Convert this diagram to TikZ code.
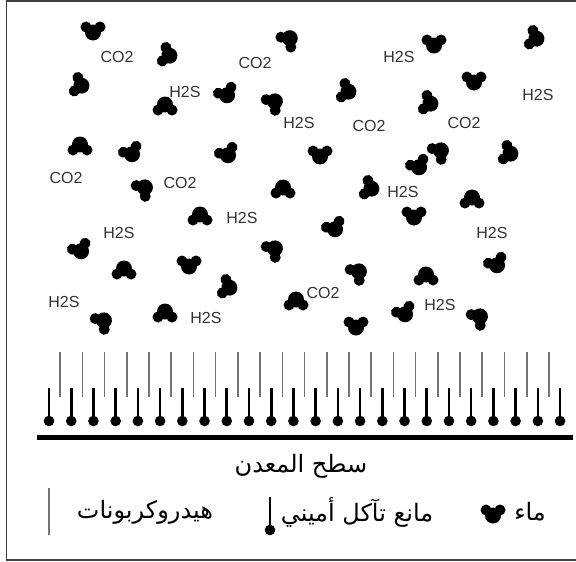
\documentclass[tikz,border=0pt]{standalone}
\usepackage{fontspec}
\setmainfont{Liberation Sans}
\newfontfamily\arabicfont[Script=Arabic]{DejaVu Sans}
\TeXXeTstate=1
\usetikzlibrary{positioning}
\tikzset{
  gas/.style={font=\fontsize{16}{19}\selectfont, text=black!80, inner sep=0pt},
  ar/.style={font=\arabicfont\fontsize{24}{28}\selectfont, inner sep=0pt},
  hc/.style={line width=1.6pt, black!55},
  stem/.style={line width=2.6pt},
  ball/.style={fill=black},
  water/.pic={\fill (-2.5,0) circle (8pt) (3,7) circle (5.5pt) (3,-7) circle (5.5pt);}
}

\begin{document}
\begin{tikzpicture}[x=1pt, y=-1pt]
  \useasboundingbox (0,0) rectangle (576,562);
  % pin spacing along the surface
  \def\pitch{22.22}

  % --- Frame ---
  \draw[line width=1.8pt, black!75] (600,0.8) -- (6.5,0.8) -- (6.5,560) -- (600,560);

  % --- Water molecules (x / y / direction of the H atoms) ---
  \foreach \x/\y/\a in {
      93/30/90, 167/55/165, 288/40/225, 434/43/90, 534/38/165,
      79/85/165, 226/93/115, 273/103/220, 346/91/165, 428/103/165, 474/80/90,
      165/107/270, 80/147/270, 131/152/115, 227/153/115, 320/154/90,
      439/152/220, 418/165/115, 508/153/165,
      143/189/220, 283/190/270, 369/188/165, 200/217/270, 414/215/90, 472/200/270,
      80/249/115, 124/271/270, 189/264/90, 273/250/220, 334/227/115, 496/263/115,
      227/287/165, 357/273/220, 426/277/270, 296/302/270,
      102/322/220, 165/314/270, 404/312/115, 356/325/90, 478/318/220}
    \pic[rotate=\a] at (\x,\y) {water};

  % --- Gas labels ---
  \node[gas] (co2a) at (117,57)  {CO2};
  \node[gas] (co2b) at (255,63)  {CO2};
  \node[gas] (co2c) at (369,126) {CO2};
  \node[gas] (co2d) at (464,123) {CO2};
  \node[gas] (co2e) at (66,178)  {CO2};
  \node[gas] (co2f) at (180,183) {CO2};
  \node[gas] (co2g) at (323,293) {CO2};
  \node[gas] (h2sa) at (185,92)  {H2S};
  \node[gas] (h2sb) at (399,57)  {H2S};
  \node[gas] (h2sc) at (538,95)  {H2S};
  \node[gas] (h2sd) at (299,123) {H2S};
  \node[gas] (h2se) at (242,218) {H2S};
  \node[gas] (h2sf) at (119,233) {H2S};
  \node[gas] (h2sg) at (403,192) {H2S};
  \node[gas] (h2sh) at (492,233) {H2S};
  \node[gas] (h2si) at (64,302)  {H2S};
  \node[gas] (h2sj) at (206,318) {H2S};
  \node[gas] (h2sk) at (440,305) {H2S};

  % --- Hydrocarbon chains and amine pins on the metal ---
  \foreach \i in {0,...,22}
    \draw[hc] (60.1+\pitch*\i,352) -- (60.1+\pitch*\i,397);
  \foreach \i in {0,...,23} {
    \draw[stem] (49+\pitch*\i,388) -- (49+\pitch*\i,421);
    \fill[ball] (49+\pitch*\i,421) circle (5.3pt);
  }
  \draw[line width=5pt] (37,437) -- (573,437);
  \node[ar] (metal) at (301,466) {\beginR سطح المعدن\endR};

  % --- Legend ---
  \draw[hc] (49,488) -- (49,535);
  \node[ar] (hclbl) at (145,512) {\beginR هيدروكربونات\endR};
  \draw[stem] (270,497) -- (270,530);
  \fill[ball] (270,530) circle (5.3pt);
  \node[ar] (inhlbl) at (357,512) {\beginR مانع تآكل أميني\endR};
  \pic[rotate=90] at (493,513) {water};
  \node[ar] (waterlbl) at (530,512) {\beginR ماء\endR};
\end{tikzpicture}
\end{document}
